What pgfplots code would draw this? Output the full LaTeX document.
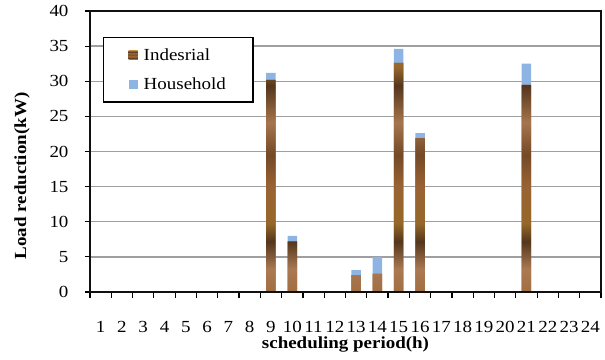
\documentclass[border=0pt]{standalone}
\usepackage{fontspec}
\setmainfont{Liberation Serif}[FakeStretch=1.12]
\usepackage{pgfplots}
\pgfplotsset{compat=1.18}

\definecolor{househ}{HTML}{8DB4E2}
\definecolor{woodbase}{HTML}{9A6234}
\definecolor{framecol}{HTML}{101010}

% wood-grain look for the industrial bars: horizontal bands of light and dark brown
\pgfdeclareverticalshading{wood}{100bp}{%
  color(0bp)=(woodbase!70!black);
  color(8bp)=(woodbase!90!white);
  color(14bp)=(woodbase!60!black);
  color(20bp)=(woodbase);
  color(30bp)=(woodbase!85!white);
  color(36bp)=(woodbase!55!black);
  color(40bp)=(woodbase!80!olive);
  color(48bp)=(woodbase);
  color(55bp)=(woodbase!75!black);
  color(62bp)=(woodbase!88!white);
  color(70bp)=(woodbase!55!black);
  color(74bp)=(woodbase!85!olive);
  color(85bp)=(woodbase!85!white);
  color(92bp)=(woodbase!75!black);
  color(100bp)=(woodbase)}

\begin{document}
\begin{tikzpicture}
\useasboundingbox (-90bp,-68bp) rectangle (515bp,292bp);
\begin{axis}[
  name=main,
  at={(0,0)}, anchor=south west,
  scale only axis, width=511bp, height=281bp,
  font=\fontsize{17}{20}\selectfont,
  /pgf/number format/assume math mode=true,
  xmin=0.5, xmax=24.5, ymin=0, ymax=40,
  ytick={0,5,...,40},
  xtick={1,...,24},
  minor xtick={0.5,1.5,...,24.5},
  major x tick style={draw=none},
  tick align=outside,
  xtick pos=bottom, ytick pos=left,
  major tick length=5bp, minor tick length=6bp,
  tick style={black, line width=1.2bp},
  axis line style={black, line width=1.5bp},
  ymajorgrids, grid style={gray!75, line width=1.4bp},
  xticklabel style={anchor=center, yshift=-30bp},
  yticklabel style={anchor=east, xshift=-13bp},
  every axis x label/.style={at={(rel axis cs:0.5,0)}, yshift=-52bp, anchor=center, font=\fontsize{17}{20}\selectfont\bfseries},
  every axis y label/.style={at={(rel axis cs:0,0.413)}, xshift=-68bp, rotate=90, anchor=center, font=\fontsize{17}{20}\selectfont\bfseries},
  xlabel={scheduling period(h)},
  ylabel={Load reduction(kW)},
  ybar stacked, bar width=9.5bp,
  legend style={at={(rel axis cs:0.0254,0.9075)}, anchor=north west,
    draw=black, line width=1.5bp, fill=white,
    inner xsep=25bp, inner ysep=9bp, row sep=12bp,
    font=\fontsize{17}{20}\selectfont, cells={anchor=west},
    /tikz/every odd column/.append style={column sep=4bp}},
  legend image code/.code={\fill[#1, draw=none] (0bp,-4.5bp) rectangle (9bp,4.5bp);},
]
\addplot+[draw=none, fill=woodbase, shade, shading=wood] coordinates {
  (9,30.2) (10,7.2) (13,2.4) (14,2.6) (15,32.6) (16,21.9) (21,29.5)};
\addlegendentry{Indesrial}
\addplot+[draw=none, fill=househ] coordinates {
  (9,1.0) (10,0.8) (13,0.7) (14,2.4) (15,2.0) (16,0.7) (21,3.0)};
\addlegendentry{Household}
\end{axis}
% outer frame of the plot area
\draw[framecol, line width=2bp] (main.south west) rectangle (main.north east);
\end{tikzpicture}
\end{document}
